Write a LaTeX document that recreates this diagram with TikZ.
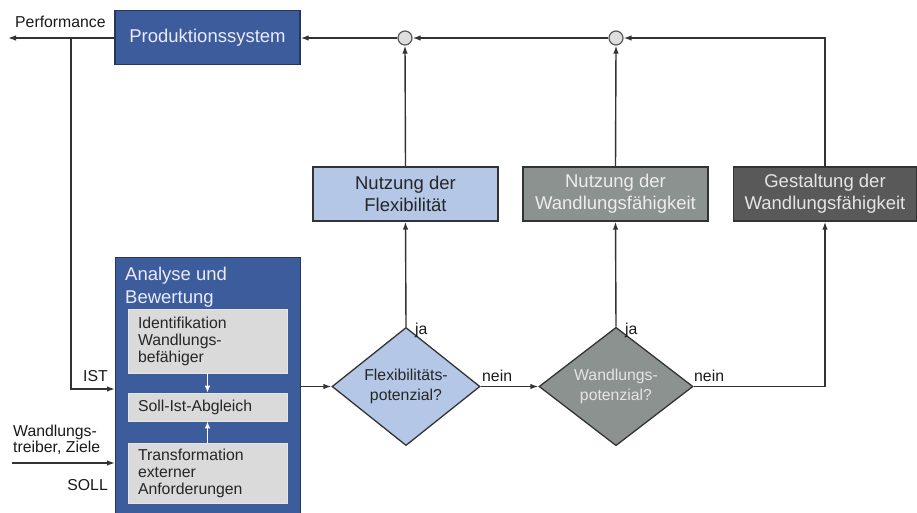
\documentclass[tikz,border=0pt]{standalone}
\usepackage{fontspec}
\setmainfont{Liberation Sans}
\usetikzlibrary{shapes.geometric,arrows.meta}
\definecolor{pblue}{HTML}{3D5C9C}
\definecolor{pblueline}{HTML}{26365E}
\definecolor{lblue}{HTML}{B4C7E7}
\definecolor{mgray}{HTML}{8B928F}
\definecolor{dgray}{HTML}{595959}
\definecolor{igray}{HTML}{DADADA}
\definecolor{lnc}{HTML}{333333}
\tikzset{
  bigbox/.style={draw=lnc, line width=1.3pt, minimum width=185pt, minimum height=54pt, inner sep=0pt, align=center, font=\fontsize{18.5}{22}\selectfont},
  innerbox/.style={draw=white!80!gray, fill=igray, line width=0.6pt, minimum width=159pt, text width=139pt, inner xsep=10pt, inner ysep=0pt, align=left, font=\fontsize{15.8}{17}\selectfont, text=black!85},
  dia/.style={diamond, draw=lnc, line width=1.3pt, inner sep=0pt, align=center, font=\fontsize{15.8}{20}\selectfont},
  sumc/.style={circle, draw=black!65, fill=black!13, line width=1.2pt, minimum size=14pt, inner sep=0pt},
  arr/.style={draw=lnc, line width=1.4pt, -{Latex[length=8pt,width=5.5pt]}},
  warr/.style={draw=white, line width=1.3pt, -{Latex[length=7pt,width=5.5pt]}},
  lbl/.style={font=\fontsize{15.8}{16}\selectfont, text=black!90, inner sep=0pt}
}
\begin{document}
\begin{tikzpicture}[x=1pt,y=-1pt]
\useasboundingbox (0,0) rectangle (917,512);
% main boxes
\node[bigbox, fill=pblue, draw=pblueline, text=white!92!blue] (ps) at (207.5,37.5) {Produktionssystem};
\node[bigbox, fill=lblue, text=black!85] (flex) at (405.5,194) {Nutzung der\\Flexibilität};
\node[bigbox, fill=mgray, text=white!93!black] (nw) at (615.5,194) {Nutzung der\\Wandlungsfähigkeit};
\node[bigbox, fill=dgray, text=white!90!black, minimum width=183pt] (gest) at (825,194) {Gestaltung der\\Wandlungsfähigkeit};
% summing points
\node[sumc] (c1) at (405,38) {};
\node[sumc] (c2) at (616,38) {};
% analysis block
\node[draw=pblueline, fill=pblue, line width=1.3pt, minimum width=185pt, minimum height=258pt, inner sep=0pt, anchor=north west] (ana) at (115,257) {};
\node[anchor=north west, align=left, text=white!92!blue, font=\fontsize{18.5}{22.5}\selectfont, inner sep=0pt] (anat) at (125,267) {Analyse und\\Bewertung};
\node[innerbox, minimum height=64pt] (i1) at (207.5,341) {Identifikation\\Wandlungs-\\befähiger};
\node[innerbox, minimum height=28pt] (i2) at (207.5,407) {Soll-Ist-Abgleich};
\node[innerbox, minimum height=60pt] (i3) at (207.5,473) {Transformation\\externer\\Anforderungen};
\draw[warr] (i1.south) -- (i2.north);
\draw[warr] (i3.north) -- (i2.south);
% diamonds
\node[dia, fill=lblue, minimum width=148pt, minimum height=89pt, text=black!85] (d1) at (406,386.5) {Flexibilitäts-\\potenzial?};
\node[dia, fill=mgray, minimum width=154pt, minimum height=89pt, text=white!90!black] (d2) at (616,386.5) {Wandlungs-\\potenzial?};
% coordinates
\coordinate (perf) at (8,38);
\coordinate (tap) at (71,38);
\coordinate (ist) at (115,389);
\coordinate (sollstart) at (12,463);
\coordinate (soll) at (115,463);
% connectors
\draw[arr] (ps.west |- perf) -- (perf);
\draw[arr] (tap) |- (ist);
\draw[arr] (sollstart) -- (soll);
\draw[arr] (ana.east |- d1.west) -- (d1.west);
\draw[arr] (d1.east) -- (d2.west);
\draw[arr] (d2.east) -| (gest.south);
\draw[arr] (d1.north) -- (flex.south);
\draw[arr] (d2.north) -- (nw.south);
\draw[arr] (flex.north) -- (c1.south);
\draw[arr] (nw.north) -- (c2.south);
\draw[arr] (gest.north) |- (c2.east);
\draw[arr] (c2.west) -- (c1.east);
\draw[arr] (c1.west) -- (ps.east |- c1.west);
% labels
\node[lbl, anchor=base west] (lperf) at (15,27) {Performance};
\node[lbl, anchor=base east] (list) at (108,381) {IST};
\node[lbl, anchor=base west, align=left] (lwz) at (13,452) {Wandlungs-\\treiber, Ziele};
\node[lbl, anchor=base east] (lsoll) at (108,490) {SOLL};
\node[lbl, anchor=base west] (lja1) at (415,334) {ja};
\node[lbl, anchor=base west] (lja2) at (625,334) {ja};
\node[lbl, anchor=base west] (lnein1) at (482,381) {nein};
\node[lbl, anchor=base west] (lnein2) at (694,381) {nein};
\end{tikzpicture}
\end{document}
